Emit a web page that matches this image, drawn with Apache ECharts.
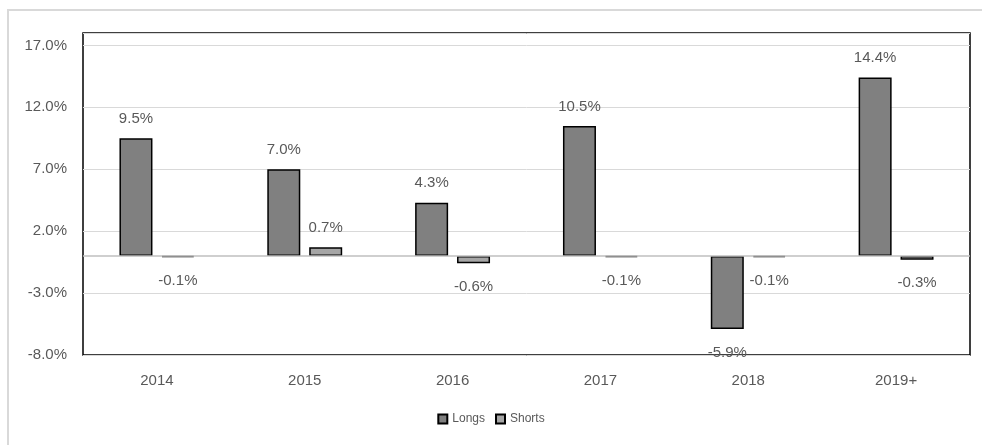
<!DOCTYPE html>
<html>
<head>
<meta charset="utf-8">
<script src="https://cdn.jsdelivr.net/npm/echarts@6/dist/echarts.min.js"></script>
<style>
  html, body { margin: 0; padding: 0; background: #fff; }
  #chart { width: 982px; height: 445px; }
</style>
</head>
<body>
<div id="chart"></div>
<script>
// years along the x axis
var years = ['2014', '2015', '2016', '2017', '2018', '2019+'];
// returns in percent
var longs = [9.5, 7.0, 4.3, 10.5, -5.9, 14.4];
var shorts = [-0.1, 0.7, -0.6, -0.1, -0.1, -0.3];

var font = '"Liberation Sans", Arial, sans-serif';
var textGray = '#595959';

// label above positive bars, below negative ones
function withLabels(arr) {
  return arr.map(function (v) {
    return {
      value: v,
      label: { position: v < 0 ? 'bottom' : 'top', distance: v < 0 ? 16 : 12 }
    };
  });
}

var myChart = echarts.init(document.getElementById('chart'));
myChart.setOption({
  animation: false,
  textStyle: { fontFamily: font },
  grid: {
    left: 83,
    right: 12,
    top: 33,
    bottom: 90,
    show: true,
    borderColor: '#000',
    borderWidth: 1.5
  },
  legend: {
    bottom: 15,
    left: 'center',
    itemWidth: 9,
    itemHeight: 9,
    itemGap: 10,
    icon: 'rect',
    textStyle: { fontSize: 12, color: textGray, fontFamily: font },
    data: ['Longs', 'Shorts']
  },
  xAxis: {
    type: 'category',
    data: years,
    axisLine: { show: false, onZero: false },
    axisTick: { show: false },
    axisLabel: { color: textGray, fontSize: 15, margin: 18 }
  },
  yAxis: {
    type: 'value',
    min: -8,
    max: 18,
    interval: 5,
    axisLine: { show: false },
    axisTick: { show: false },
    splitLine: { lineStyle: { color: '#d9d9d9', width: 1 } },
    axisLabel: {
      color: textGray,
      fontSize: 15,
      margin: 16,
      showMaxLabel: false,
      formatter: function (v) { return v.toFixed(1) + '%'; }
    }
  },
  series: [
    {
      name: 'Longs',
      type: 'bar',
      data: withLabels(longs),
      barWidth: 33,
      barGap: '27%',
      itemStyle: { color: '#808080', borderColor: '#000', borderWidth: 1.5 },
      label: {
        show: true,
        color: textGray,
        fontSize: 15,
        formatter: function (p) { return p.value.toFixed(1) + '%'; }
      },
      markLine: {
        silent: true,
        symbol: 'none',
        label: { show: false },
        lineStyle: { color: '#bfbfbf', type: 'solid', width: 1.5 },
        data: [{ yAxis: 0 }]
      }
    },
    {
      name: 'Shorts',
      type: 'bar',
      data: withLabels(shorts),
      barWidth: 33,
      itemStyle: { color: '#a6a6a6', borderColor: '#000', borderWidth: 1.5 },
      label: {
        show: true,
        color: textGray,
        fontSize: 15,
        formatter: function (p) { return p.value.toFixed(1) + '%'; }
      }
    }
  ],
  graphic: [
    {
      type: 'polyline',
      silent: true,
      shape: { points: [[8, 445], [8, 10], [982, 10]] },
      style: { stroke: '#d9d9d9', lineWidth: 2, fill: null }
    }
  ]
});
</script>
</body>
</html>
